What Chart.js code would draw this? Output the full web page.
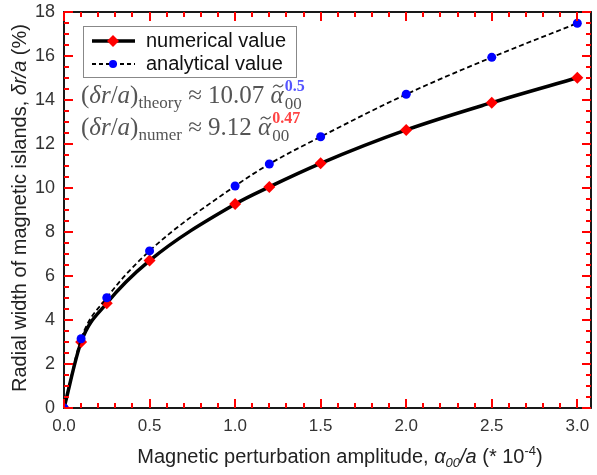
<!DOCTYPE html>
<html>
<head>
<meta charset="utf-8">
<script src="https://cdn.jsdelivr.net/npm/chart.js@4"></script>
<style>
  html, body { margin: 0; padding: 0; background: #fff; }
  #wrap { width: 597px; height: 475px; }
</style>
</head>
<body>
<div id="wrap"><canvas id="islandChart" width="597" height="475"></canvas></div>
<script>
// Perturbation amplitude (x 10^-4) and island widths (%)
const amplitude = [0, 0.1, 0.25, 0.5, 1.0, 1.2, 1.5, 2.0, 2.5, 3.0];
const numerical = [0, 3.0, 4.76, 6.70, 9.27, 10.05, 11.12, 12.64, 13.88, 15.01];
const analytical = [0, 3.15, 5.01, 7.14, 10.09, 11.09, 12.33, 14.26, 15.94, 17.49];
const xTickValues = [0, 0.5, 1.0, 1.5, 2.0, 2.5, 3.0];
const yTickValues = [0, 2, 4, 6, 8, 10, 12, 14, 16, 18];

const sans = 'Liberation Sans, Arial, sans-serif';
const serif = 'Liberation Serif, Times New Roman, serif';

function toPoints(xs, ys) {
    return xs.map((x, i) => ({ x: x, y: ys[i] }));
}

// Draw a run of text pieces with different fonts / offsets
function measureRuns(ctx, runs) {
    let w = 0;
    runs.forEach(r => {
        ctx.font = r.font;
        w += ctx.measureText(r.t).width;
    });
    return w;
}

function drawRuns(ctx, x, y, runs) {
    ctx.textAlign = 'left';
    ctx.textBaseline = 'alphabetic';
    runs.forEach(r => {
        ctx.font = r.font;
        ctx.fillStyle = r.color || '#222';
        ctx.fillText(r.t, x, y + (r.dy || 0));
        x += ctx.measureText(r.t).width;
    });
    return x;
}

// alpha with a tilde on top, returns x after the glyph
function drawAlphaTilde(ctx, x, y, font, color) {
    ctx.font = font;
    ctx.fillStyle = color;
    ctx.fillText('α', x, y);
    const w = ctx.measureText('α').width;
    ctx.strokeStyle = color;
    ctx.lineWidth = 1.2;
    ctx.beginPath();
    const cx = x + w / 2 + 1, ty = y - 17;
    ctx.moveTo(cx - 5, ty + 1.5);
    ctx.bezierCurveTo(cx - 3, ty - 2, cx - 1, ty - 1, cx, ty);
    ctx.bezierCurveTo(cx + 1, ty + 1, cx + 3, ty + 2, cx + 5, ty - 1.5);
    ctx.stroke();
    return x + w;
}

function drawFormula(ctx, y, label, coef, power, powerColor) {
    const gray = '#555';
    const fN = '25px ' + serif;
    const fI = 'italic 25px ' + serif;
    const fS = '17px ' + serif;
    const fSb = 'bold 16px ' + serif;
    let x = drawRuns(ctx, 81, y, [
        { t: '(', font: fN, color: gray },
        { t: 'δr', font: fI, color: gray },
        { t: '/', font: fN, color: gray },
        { t: 'a', font: fI, color: gray },
        { t: ')', font: fN, color: gray },
        { t: label, font: fS, color: gray, dy: 5 },
        { t: ' ≈ ' + coef + ' ', font: fN, color: gray }
    ]);
    x = drawAlphaTilde(ctx, x, y, fI, gray);
    drawRuns(ctx, x + 1, y, [{ t: power, font: fSb, color: powerColor, dy: -12 }]);
    drawRuns(ctx, x + 1, y, [{ t: '00', font: fS, color: gray, dy: 6 }]);
}

// Frame, inward ticks, legend, formulas and axis titles
const decorations = {
    id: 'decorations',
    afterDraw(chart) {
        const ctx = chart.ctx;
        const a = chart.chartArea;
        const xs = chart.scales.x;
        const ys = chart.scales.y;
        ctx.save();
        ctx.setLineDash([]);

        ctx.lineWidth = 1.8;
        ctx.strokeStyle = '#000';
        ctx.strokeRect(a.left, a.top, a.right - a.left, a.bottom - a.top);

        // ticks pointing into the plot on all four sides
        ctx.strokeStyle = '#f00';
        ctx.lineWidth = 2;
        for (let i = 0; i <= 30; i++) {
            const px = Math.round(xs.getPixelForValue(i / 10));
            const len = (i % 5 === 0) ? 9 : 5;
            ctx.beginPath();
            ctx.moveTo(px, a.bottom); ctx.lineTo(px, a.bottom - len);
            ctx.moveTo(px, a.top); ctx.lineTo(px, a.top + len);
            ctx.stroke();
        }
        for (let i = 0; i <= 36; i++) {
            const py = Math.round(ys.getPixelForValue(i / 2));
            const len = (i % 4 === 0) ? 9 : 5;
            ctx.beginPath();
            ctx.moveTo(a.left, py); ctx.lineTo(a.left + len, py);
            ctx.moveTo(a.right, py); ctx.lineTo(a.right - len, py);
            ctx.stroke();
        }

        // legend box
        ctx.strokeStyle = '#888';
        ctx.lineWidth = 1;
        ctx.fillStyle = '#fff';
        ctx.fillRect(83.5, 26.5, 213, 51);
        ctx.strokeRect(83.5, 26.5, 213, 51);

        // numerical entry
        ctx.strokeStyle = '#000';
        ctx.lineWidth = 3.5;
        ctx.beginPath(); ctx.moveTo(92, 41); ctx.lineTo(135, 41); ctx.stroke();
        ctx.fillStyle = '#ff0000';
        ctx.beginPath();
        ctx.moveTo(113, 35); ctx.lineTo(119, 41); ctx.lineTo(113, 47); ctx.lineTo(107, 41);
        ctx.closePath(); ctx.fill();

        // analytical entry
        ctx.lineWidth = 1.8;
        ctx.setLineDash([4, 3]);
        ctx.beginPath(); ctx.moveTo(92, 64); ctx.lineTo(135, 64); ctx.stroke();
        ctx.setLineDash([]);
        ctx.fillStyle = '#0000ff';
        ctx.beginPath(); ctx.arc(113, 64, 4, 0, Math.PI * 2); ctx.fill();

        ctx.fillStyle = '#111';
        ctx.font = '20px ' + sans;
        ctx.textBaseline = 'middle';
        ctx.fillText('numerical value', 146, 41);
        ctx.fillText('analytical value', 146, 64);

        // fit formulas
        drawFormula(ctx, 103, 'theory', '10.07', '0.5', '#5555ff');
        drawFormula(ctx, 135, 'numer', '9.12', '0.47', '#ff4444');

        // x axis title
        const fT = '20px ' + sans;
        const fTi = 'italic 20px ' + sans;
        const fTs = '13px ' + sans;
        const fTsi = 'italic 13px ' + sans;
        const xRuns = [
            { t: 'Magnetic perturbation amplitude, ', font: fT },
            { t: 'α', font: fTi },
            { t: '00', font: fTsi, dy: 4 },
            { t: '/a', font: fTi },
            { t: ' (* 10', font: fT },
            { t: '-4', font: fTs, dy: -8 },
            { t: ')', font: fT }
        ];
        ctx.fillStyle = '#111';
        const xw = measureRuns(ctx, xRuns);
        drawRuns(ctx, 340 - xw / 2, 463, xRuns);

        // y axis title
        const yRuns = [
            { t: 'Radial width of magnetic islands, ', font: fT },
            { t: 'δr/a', font: fTi },
            { t: ' (%)', font: fT }
        ];
        const yw = measureRuns(ctx, yRuns);
        ctx.translate(26, 208);
        ctx.rotate(-Math.PI / 2);
        drawRuns(ctx, -yw / 2, 0, yRuns);

        ctx.restore();
    }
};

const chart = new Chart(document.getElementById('islandChart'), {
    type: 'line',
    data: {
        datasets: [
            {
                label: 'numerical value',
                data: toPoints(amplitude, numerical),
                borderColor: '#000',
                borderWidth: 3.5,
                cubicInterpolationMode: 'monotone',
                pointStyle: 'rectRot',
                pointRadius: 6,
                pointBackgroundColor: '#ff0000',
                pointBorderColor: '#ff0000',
                pointBorderWidth: 0,
                order: 2
            },
            {
                label: 'analytical value',
                data: toPoints(amplitude, analytical),
                borderColor: '#000',
                borderWidth: 1.8,
                borderDash: [5, 3],
                cubicInterpolationMode: 'monotone',
                pointStyle: 'circle',
                pointRadius: 4.5,
                pointBackgroundColor: '#0000ff',
                pointBorderColor: '#0000ff',
                pointBorderWidth: 0,
                order: 1
            }
        ]
    },
    options: {
        responsive: false,
        animation: false,
        layout: { padding: { top: 12, right: 1, left: 0, bottom: 0 } },
        plugins: {
            legend: { display: false },
            tooltip: { enabled: false }
        },
        scales: {
            x: {
                type: 'linear',
                min: 0,
                max: 3.08,
                afterBuildTicks(scale) {
                    scale.ticks = xTickValues.map(v => ({ value: v }));
                },
                afterFit(scale) {
                    scale.height = 67;
                    // let the end labels hang over the plot edges
                    scale.paddingLeft = 0;
                    scale.paddingRight = 0;
                },
                grid: { display: false, drawTicks: false },
                border: { display: false },
                ticks: {
                    padding: 8,
                    color: '#333',
                    font: { family: sans, size: 17 },
                    callback: v => v.toFixed(1)
                }
            },
            y: {
                type: 'linear',
                min: 0,
                max: 18,
                afterBuildTicks(scale) {
                    scale.ticks = yTickValues.map(v => ({ value: v }));
                },
                afterFit(scale) {
                    scale.width = 64;
                    scale.paddingTop = 0;
                    scale.paddingBottom = 0;
                },
                grid: { display: false, drawTicks: false },
                border: { display: false },
                ticks: {
                    padding: 9,
                    color: '#333',
                    font: { family: sans, size: 18 }
                }
            }
        }
    },
    plugins: [decorations]
});
</script>
</body>
</html>
